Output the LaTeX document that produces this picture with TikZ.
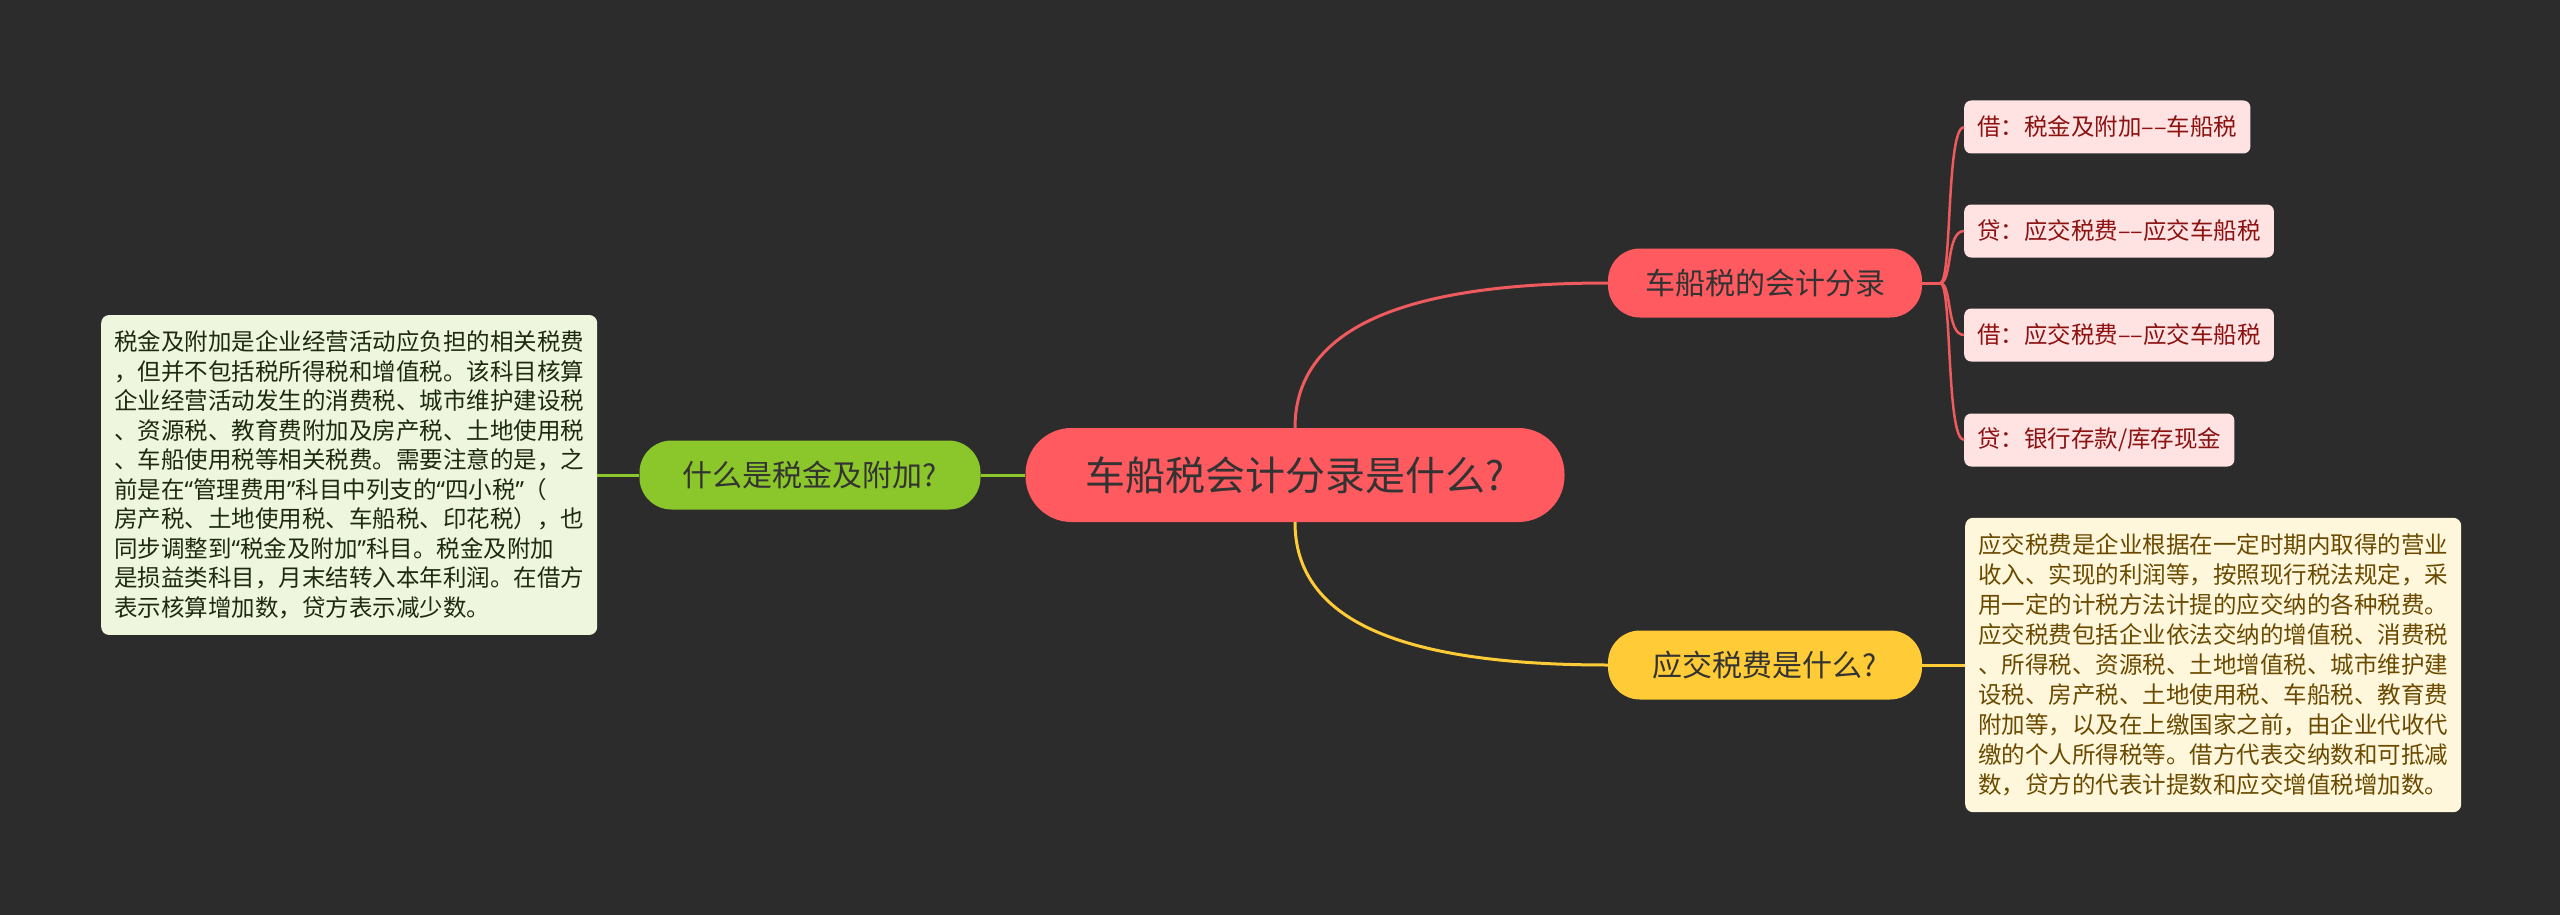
\documentclass[tikz,border=0pt]{standalone}
\usepackage{fontspec}
\newfontfamily\cjk{Noto Sans CJK SC}
\newfontfamily\quotefont{Noto Sans}
\newcommand\oq{{\quotefont “}}
\newcommand\cq{{\quotefont ”}}
\definecolor{bgdark}{HTML}{2C2C2C}
\definecolor{rootred}{HTML}{FF5A5F}
\definecolor{linered}{HTML}{EE5A5E}
\definecolor{leafpink}{HTML}{FFE3E3}
\definecolor{leaftext}{HTML}{8C1111}
\definecolor{limegreen}{HTML}{8BC72A}
\definecolor{palegreen}{HTML}{EEF6DE}
\definecolor{darkgreen}{HTML}{1E2A10}
\definecolor{sunyellow}{HTML}{FFCB36}
\definecolor{paleyellow}{HTML}{FFF7DC}
\definecolor{browntext}{HTML}{6A4A00}
\begin{document}
\begin{tikzpicture}[x=1pt,y=-1pt,
    pill/.style={rounded corners=32pt, minimum height=69pt, text=black!80,
      font=\cjk\fontsize{30}{36}\selectfont},
    leaf/.style={fill=leafpink, text=leaftext, rounded corners=7pt, minimum height=53pt,
      inner xsep=13pt, anchor=west, font=\cjk\fontsize{23.5}{28}\selectfont},
    note/.style={rounded corners=8pt, align=left, inner xsep=13pt, inner ysep=16pt,
      anchor=west},
    redline/.style={linered, line width=3pt},
    greenline/.style={limegreen, line width=3pt},
    yellowline/.style={sunyellow, line width=3pt}]
    \useasboundingbox[fill=bgdark] (0,0) rectangle (2560,915);
    % centre and the three topics
    \node[pill, fill=rootred, minimum width=539pt, minimum height=94pt, rounded corners=46pt,
      font=\cjk\fontsize{40}{48}\selectfont] (root) at (1295,475) {车船税会计分录是什么?};
    \node[pill, fill=limegreen, minimum width=341pt] (what) at (810,475) {什么是税金及附加?};
    \node[pill, fill=rootred, minimum width=314pt] (entry) at (1765,283) {车船税的会计分录};
    \node[pill, fill=sunyellow, minimum width=314pt] (payable) at (1765,665) {应交税费是什么?};
    % notes
    \node[note, fill=palegreen, text=darkgreen, font=\cjk\fontsize{23.5}{29.5}\selectfont]
      (whatnote) at (101,475) {税金及附加是企业经营活动应负担的相关税费\\
      ，但并不包括税所得税和增值税。该科目核算\\
      企业经营活动发生的消费税、城市维护建设税\\
      、资源税、教育费附加及房产税、土地使用税\\
      、车船使用税等相关税费。需要注意的是，之\\
      前是在\oq 管理费用\cq 科目中列支的\oq 四小税\cq （\\
      房产税、土地使用税、车船税、印花税），也\\
      同步调整到\oq 税金及附加\cq 科目。税金及附加\\
      是损益类科目，月末结转入本年利润。在借方\\
      表示核算增加数，贷方表示减少数。};
    \node[note, fill=paleyellow, text=browntext, font=\cjk\fontsize{23.5}{30}\selectfont]
      (paynote) at (1965,665) {应交税费是企业根据在一定时期内取得的营业\\
      收入、实现的利润等，按照现行税法规定，采\\
      用一定的计税方法计提的应交纳的各种税费。\\
      应交税费包括企业依法交纳的增值税、消费税\\
      、所得税、资源税、土地增值税、城市维护建\\
      设税、房产税、土地使用税、车船税、教育费\\
      附加等，以及在上缴国家之前，由企业代收代\\
      缴的个人所得税等。借方代表交纳数和可抵减\\
      数，贷方的代表计提数和应交增值税增加数。};
    % entries
    \node[leaf] (leaf1) at (1964,127) {借：税金及附加––车船税};
    \node[leaf] (leaf2) at (1964,231) {贷：应交税费––应交车船税};
    \node[leaf] (leaf3) at (1964,335) {借：应交税费––应交车船税};
    \node[leaf] (leaf4) at (1964,440) {贷：银行存款/库存现金};
    % connectors
    \draw[greenline] (root.west) -- (what.east);
    \draw[greenline] (what.west) -- (whatnote.east);
    \draw[redline] (root.north) .. controls +(0,-98) and +(-208,0) .. (entry.west);
    \draw[yellowline] (root.south) .. controls +(0,98) and +(-208,0) .. (payable.west);
    \draw[yellowline] (payable.east) -- (paynote.west);
    \draw[redline] (entry.east) -- ++(18,0) coordinate (fork);
    \foreach \i in {1,...,4}
      \draw[redline, line width=2.5pt] (fork) .. controls +(12,0) and +(-18,0) .. (leaf\i.west);
\end{tikzpicture}
\end{document}
